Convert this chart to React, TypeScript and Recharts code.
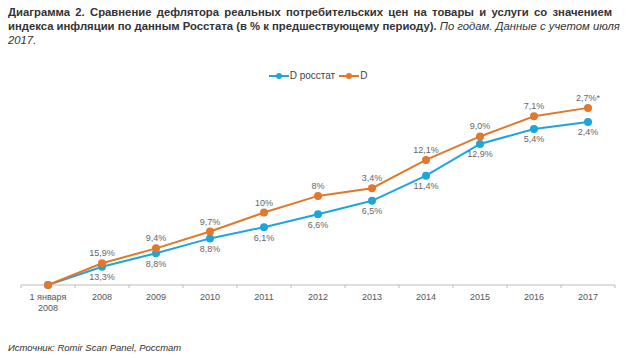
import { LineChart, Line, XAxis, YAxis, Legend, LabelList } from 'recharts';

const categories = ['1 января\n2008', '2008', '2009', '2010', '2011', '2012', '2013', '2014', '2015', '2016', '2017'];
// cumulative level, 1 Jan 2008 = 100
const rosstatValues = [100, 113.3, 123.3, 134.1, 142.3, 151.7, 161.6, 180.0, 203.2, 214.2, 219.3];
const dValues = [100, 115.9, 126.8, 139.1, 153.0, 165.2, 170.8, 191.5, 208.7, 223.5, 229.6];
const rosstatLabels = ['', '13,3%', '8,8%', '8,8%', '6,1%', '6,6%', '6,5%', '11,4%', '12,9%', '5,4%', '2,4%'];
const dLabels = ['', '15,9%', '9,4%', '9,7%', '10%', '8%', '3,4%', '12,1%', '9,0%', '7,1%', '2,7%*'];
const seriesOrder = ['D росстат', 'D'];

const BLUE = '#1EA5DC';
const ORANGE = '#E1782B';
const AXIS = '#bbb';
const FONT = "Arial, 'Liberation Sans', sans-serif";

const data = categories.map((cat, i) => ({
    cat,
    rosstat: rosstatValues[i],
    d: dValues[i],
    rosstatLabel: rosstatLabels[i],
    dLabel: dLabels[i],
}));

// label plus a small tick mark on the band edges
const CategoryTick = ({ x, y, payload, index, visibleTicksCount }: any) => {
    const lines = String(payload.value).split('\n');
    const half = payload.offset || 0;
    return (
        <g>
            <line x1={x - half} y1={y} x2={x - half} y2={y + 3} stroke={AXIS} />
            {index === visibleTicksCount - 1 && <line x1={x + half} y1={y} x2={x + half} y2={y + 3} stroke={AXIS} />}
            <text x={x} y={y + 15} textAnchor="middle" fontSize={9} fill="#555" fontFamily={FONT}>
                {lines.map((l, i) => (
                    <tspan key={i} x={x} dy={i === 0 ? 0 : 11}>
                        {l}
                    </tspan>
                ))}
            </text>
        </g>
    );
};

const LegendContent = ({ payload }: any) => {
    const items = [...(payload || [])].sort((a: any, b: any) => seriesOrder.indexOf(a.value) - seriesOrder.indexOf(b.value));
    return (
        <div style={{ display: 'flex', justifyContent: 'center', fontFamily: FONT, fontSize: 10, color: '#444' }}>
            {items.map((p: any) => (
                <div key={p.value} style={{ display: 'flex', alignItems: 'center', marginRight: 4 }}>
                    <svg width={20} height={8}>
                        <line x1={0} y1={4} x2={20} y2={4} stroke={p.color} strokeWidth={2} />
                        <circle cx={10} cy={4} r={3} fill={p.color} />
                    </svg>
                    <span style={{ marginLeft: 1 }}>{p.value}</span>
                </div>
            ))}
        </div>
    );
};

const lineStyle = { display: 'block', textAlign: 'justify' as const, textAlignLast: 'justify' as const, whiteSpace: 'nowrap' as const };

const App = () => (
    <div style={{ position: 'absolute', left: 0, top: 0, width: 640, height: 358, overflow: 'hidden', background: '#fff', fontFamily: FONT, color: '#333' }}>
        <div style={{ position: 'absolute', left: 8, top: 5, width: 604, fontSize: 11.3, lineHeight: '14px' }}>
            <div style={{ ...lineStyle, fontWeight: 'bold' }}>
                Диаграмма 2. Сравнение дефлятора реальных потребительских цен на товары и услуги со значением
            </div>
            <div style={lineStyle}>
                <b>индекса инфляции по данным Росстата (в % к предшествующему периоду).</b>
                <i> По годам. Данные с учетом июля</i>
            </div>
            <div>
                <i>2017.</i>
            </div>
        </div>
        <div style={{ position: 'absolute', left: 0, top: 0 }}>
            <LineChart width={640} height={358} data={data} margin={{ top: 80, right: 25, bottom: 43, left: 21 }}>
                <XAxis
                    dataKey="cat"
                    scale="band"
                    interval={0}
                    axisLine={{ stroke: AXIS }}
                    tickLine={false}
                    tickSize={0}
                    tickMargin={0}
                    tick={<CategoryTick />}
                    height={30}
                />
                <YAxis hide domain={[100, 250]} />
                <Legend
                    verticalAlign="middle"
                    content={<LegendContent />}
                    wrapperStyle={{ top: 70, left: 0, width: 640 }}
                />
                <Line
                    dataKey="rosstat"
                    name="D росстат"
                    stroke={BLUE}
                    strokeWidth={2}
                    dot={{ r: 4, fill: BLUE, stroke: BLUE, strokeWidth: 0 }}
                    isAnimationActive={false}
                >
                    <LabelList dataKey="rosstatLabel" position="bottom" offset={7} fontSize={9} fill="#666" fontFamily={FONT} />
                </Line>
                <Line
                    dataKey="d"
                    name="D"
                    stroke={ORANGE}
                    strokeWidth={2}
                    dot={{ r: 4, fill: ORANGE, stroke: ORANGE, strokeWidth: 0 }}
                    isAnimationActive={false}
                >
                    <LabelList dataKey="dLabel" position="top" offset={7} fontSize={9} fill="#666" fontFamily={FONT} />
                </Line>
            </LineChart>
        </div>
        <div style={{ position: 'absolute', left: 8, top: 342, fontSize: 9.5, fontStyle: 'italic' }}>
            Источник: Romir Scan Panel, Росстат
        </div>
    </div>
);

export default App;
